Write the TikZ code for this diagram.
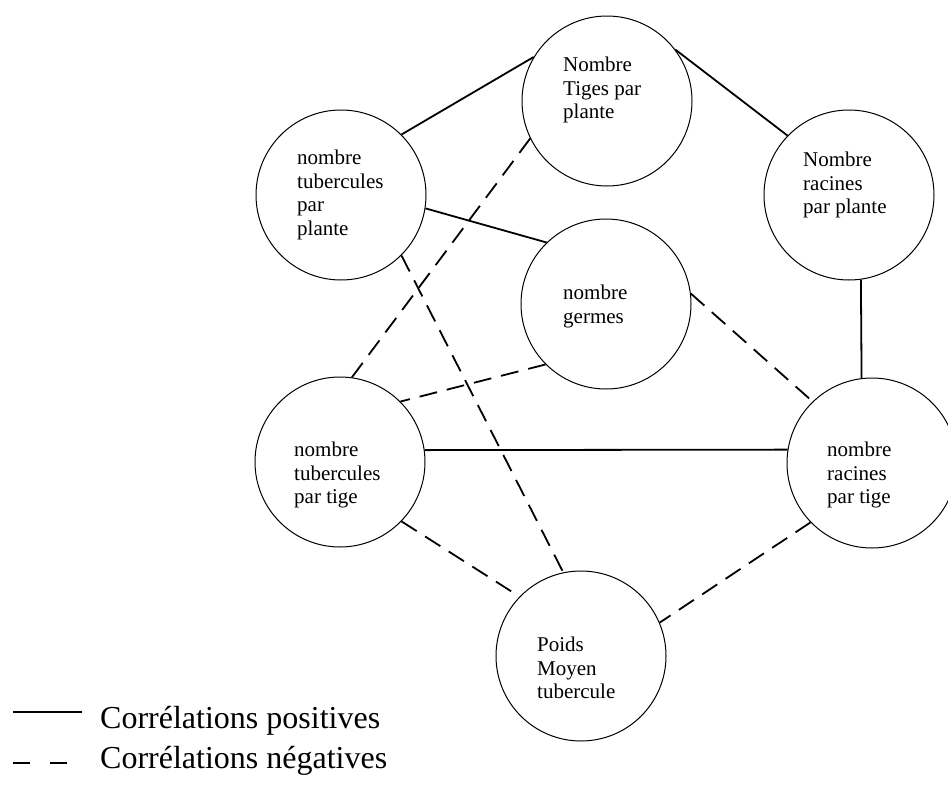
\documentclass[tikz,border=0pt]{standalone}
\usepackage{fontspec}
\setmainfont{Liberation Serif}
\begin{document}
\begin{tikzpicture}[x=1pt, y=-1pt, line join=round,
	circ/.style={draw, circle, minimum size=170pt, inner sep=0pt, line width=1pt},
	lbl/.style={anchor=north west, align=left, inner sep=0pt, font=\fontsize{21}{23.5}\selectfont},
	leg/.style={anchor=base west, inner sep=0pt, font=\fontsize{32}{36}\selectfont},
	poscor/.style={line width=1.8pt},
	negcor/.style={line width=1.8pt, dash pattern=on 18pt off 10pt}]
			\useasboundingbox (0,0) rectangle (948,787);
			% circles
			\node[circ] (tig) at (607,101){};
			\node[circ] (tpl) at (341,195){};
			\node[circ] (rpl) at (849,195){};
			\node[circ] (ger) at (606,304){};
			\node[circ] (ttg) at (340,462){};
			\node[circ] (rtg) at (872,463){};
			\node[circ] (pds) at (581,656){};
			% texts
			\node[lbl] (tig-t) at (563,57){Nombre\\Tiges par\\plante};
			\node[lbl] (tpl-t) at (297,150){nombre\\tubercules\\par\\plante};
			\node[lbl] (rpl-t) at (803,152){Nombre\\racines\\par plante};
			\node[lbl] (ger-t) at (563,285){nombre\\germes};
			\node[lbl] (ttg-t) at (294,442){nombre\\tubercules\\par tige};
			\node[lbl] (rtg-t) at (827,442){nombre\\racines\\par tige};
			\node[lbl] (pds-t) at (537,637){Poids\\Moyen\\tubercule};
			% positive
			\draw[poscor] (tpl.45)--(tig.149);
			\draw[poscor] (tig.37)--(rpl.136);
			\draw[poscor] (tpl.-9)--(ger.134);
			\draw[poscor] (rpl.-82)--(rtg.97);
			\draw[poscor] (ttg.8)--(rtg.171);
			% negative
			\draw[negcor] (tig.206)--(ttg.82);
			\draw[negcor] (tpl.-45)--(pds.102);
			\draw[negcor] (ger.225)--(ttg.45);
			\draw[negcor] (ger.7)--(rtg.134);
			\draw[negcor] (ttg.-44)--(pds.136);
			\draw[negcor] (rtg.224)--(pds.23);
			% legend
			\node[leg] (lpos) at (100,728){Corrélations positives};
			\node[leg] (lneg) at (100,768){Corrélations négatives};
			\coordinate (lp1) at (13,712);
			\coordinate (lp2) at (82,712);
			\coordinate (ln1) at (13,763);
			\coordinate (ln2) at (80,763);
			\draw[poscor] (lp1)--(lp2);
			\draw[negcor, dash pattern=on 17pt off 20pt] (ln1)--(ln2);
	\end{tikzpicture}
\end{document}
